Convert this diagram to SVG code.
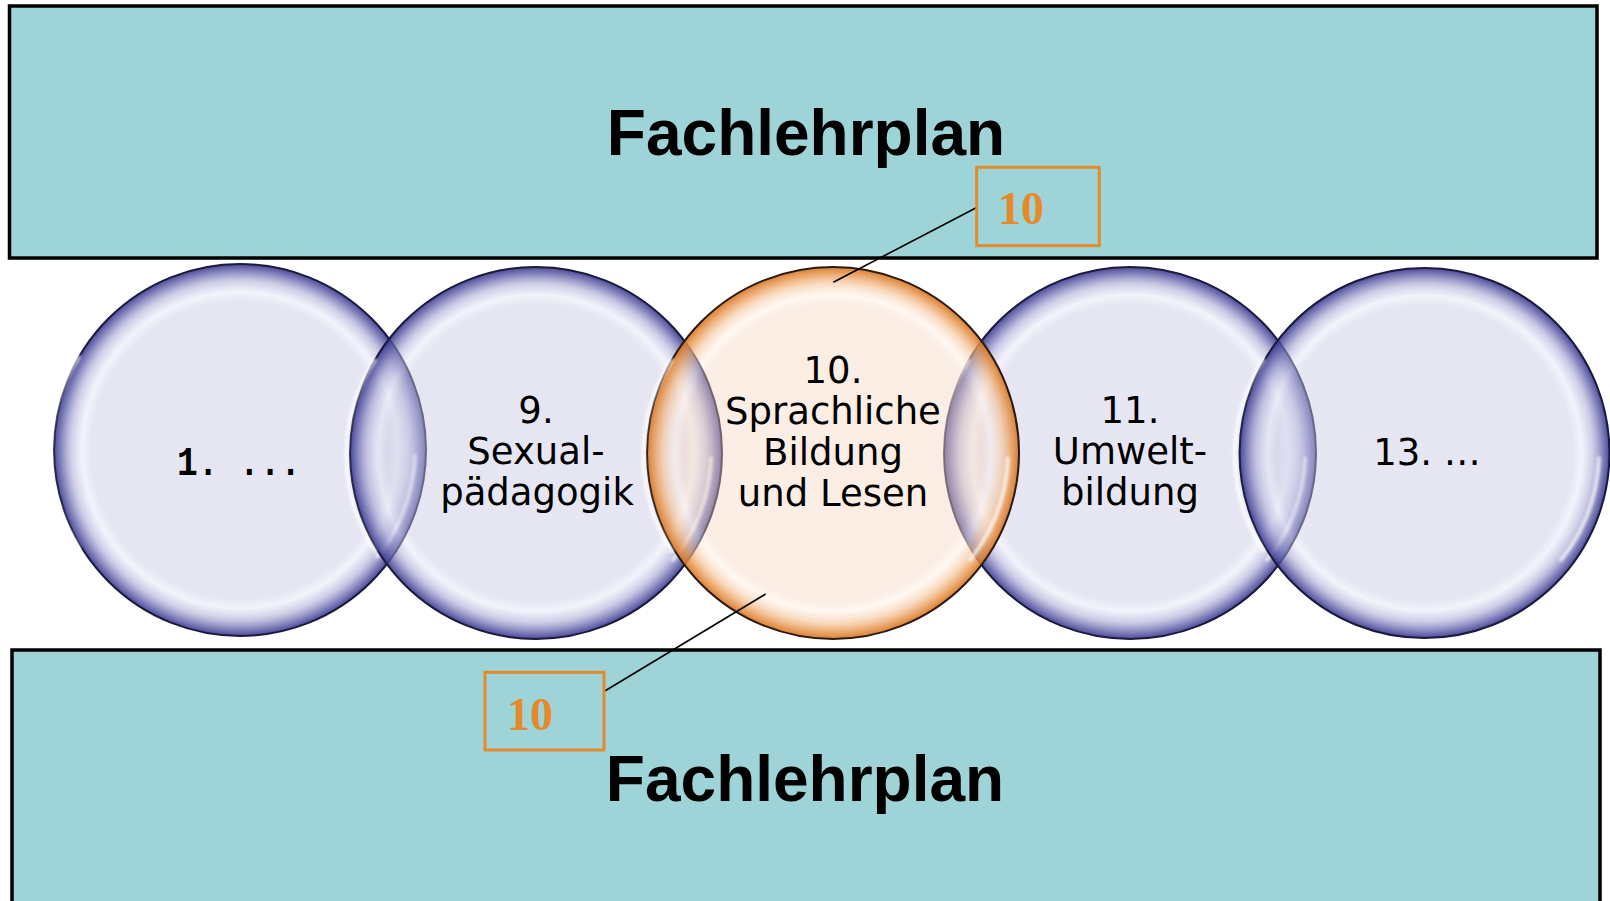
<svg xmlns="http://www.w3.org/2000/svg" width="1610" height="901" viewBox="0 0 1610 901">
<defs>
<radialGradient id="gBlue" cx="50%" cy="50%" r="50%">
<stop offset="0" stop-color="#C8C8E4" stop-opacity="0.45"/>
<stop offset="0.8" stop-color="#C8C8E4" stop-opacity="0.45"/>
<stop offset="0.85" stop-color="#E4E4F6" stop-opacity="0.45"/>
<stop offset="0.91" stop-color="#A4A4D2" stop-opacity="0.55"/>
<stop offset="0.96" stop-color="#6262AC" stop-opacity="0.75"/>
<stop offset="1" stop-color="#35358A" stop-opacity="0.9"/>
</radialGradient>
<radialGradient id="gOrange" cx="50%" cy="50%" r="50%">
<stop offset="0" stop-color="#F5D3BA" stop-opacity="0.4"/>
<stop offset="0.8" stop-color="#F5D3BA" stop-opacity="0.4"/>
<stop offset="0.85" stop-color="#FFF0E4" stop-opacity="0.45"/>
<stop offset="0.91" stop-color="#F4C49A" stop-opacity="0.6"/>
<stop offset="0.96" stop-color="#E9974F" stop-opacity="0.8"/>
<stop offset="1" stop-color="#D47424" stop-opacity="0.92"/>
</radialGradient>
<filter id="soft" filterUnits="userSpaceOnUse" x="0" y="200" width="1610" height="500">
<feGaussianBlur stdDeviation="1.5"/>
</filter>
</defs>
<style>
.plan{fill:#9ED3D7;stroke:#000;stroke-width:3.5}
.title{font-family:"Liberation Sans",Arial,sans-serif;font-weight:bold;font-size:64px;fill:#000;text-anchor:middle}
.bub{fill:url(#gBlue);stroke:#1A1A3C;stroke-width:2}
.bubO{fill:url(#gOrange);stroke:#2A1A10;stroke-width:2}
.hl{fill:none;stroke:#FFFFFF;stroke-width:3.5;stroke-linecap:round;opacity:0.8;filter:url(#soft)}
.lbl{font-family:"DejaVu Sans",Verdana,sans-serif;font-size:37px;fill:#000;text-anchor:middle}
.mono{font-family:"Liberation Mono","Courier New",monospace;font-weight:bold;font-size:40px;fill:#000}
.tag{fill:none;stroke:#E58A2B;stroke-width:3}
.tagt{font-family:"Liberation Serif","Times New Roman",serif;font-weight:bold;font-size:46px;fill:#E58A2B}
.conn{stroke:#000;stroke-width:1.6;fill:none}
</style>

<g id="plan-top">
<rect class="plan" x="9.5" y="6" width="1587.5" height="252"/>
<text class="title" x="806" y="155">Fachlehrplan</text>
</g>
<g id="plan-bottom">
<rect class="plan" x="12" y="650" width="1588" height="270"/>
<text class="title" x="805" y="801">Fachlehrplan</text>
</g>

<g id="c1">
<circle class="bub" cx="240" cy="450" r="186"/>
<path class="hl" d="M 78.9 357 A 174 174 0 0 0 79 548"/>
<path class="hl" d="M 415 455 A 175 175 0 0 1 377 557"/>
<text class="mono" x="177" y="475" textLength="124" lengthAdjust="spacingAndGlyphs">1. ...</text>
</g>
<g id="c2">
<circle class="bub" cx="536" cy="453" r="186"/>
<path class="hl" d="M 374.9 360 A 174 174 0 0 0 375 551"/>
<path class="hl" d="M 711 458 A 175 175 0 0 1 673 560"/>
<text class="lbl" x="536" y="423">9.</text>
<text class="lbl" x="536" y="464">Sexual-</text>
<text class="lbl" x="537" y="505">pädagogik</text>
</g>
<g id="c4">
<circle class="bub" cx="1130" cy="453" r="186"/>
<path class="hl" d="M 968.9 360 A 174 174 0 0 0 969 551"/>
<path class="hl" d="M 1305 458 A 175 175 0 0 1 1267 560"/>
<text class="lbl" x="1130" y="423">11.</text>
<text class="lbl" x="1130" y="464">Umwelt-</text>
<text class="lbl" x="1130" y="505">bildung</text>
</g>
<g id="c5">
<circle class="bub" cx="1424.5" cy="453" r="185"/>
<path class="hl" d="M 1263.4 360 A 174 174 0 0 0 1263.5 551"/>
<path class="hl" d="M 1599 458 A 175 175 0 0 1 1561 560"/>
<text class="lbl" x="1427" y="465">13.  …</text>
</g>
<g id="c3">
<circle class="bubO" cx="833" cy="453" r="186"/>
<path class="hl" d="M 671.9 360 A 174 174 0 0 0 672 551"/>
<path class="hl" d="M 1008 458 A 175 175 0 0 1 970 560"/>
<text class="lbl" x="833" y="383">10.</text>
<text class="lbl" x="833" y="424">Sprachliche</text>
<text class="lbl" x="833" y="465">Bildung</text>
<text class="lbl" x="833" y="506">und Lesen</text>
</g>

<g id="connectors">
<line class="conn" x1="976.7" y1="207.5" x2="833.3" y2="282.3"/>
<line class="conn" x1="604" y1="691.5" x2="765.7" y2="594"/>
</g>

<g id="tag-top">
<rect class="tag" x="976.7" y="167.3" width="122.6" height="78.4"/>
<text class="tagt" x="998" y="224">10</text>
</g>
<g id="tag-bottom">
<rect class="tag" x="485" y="672.3" width="119" height="77.7"/>
<text class="tagt" x="507" y="729.5">10</text>
</g>
</svg>
